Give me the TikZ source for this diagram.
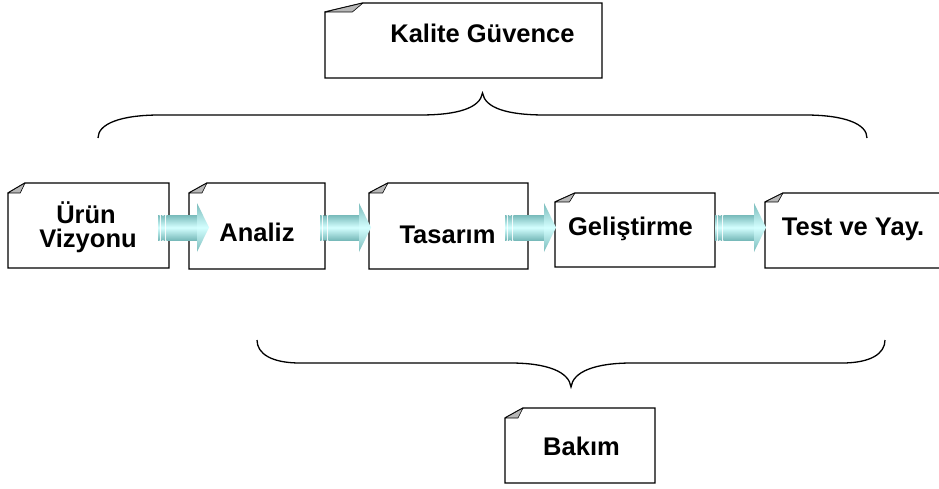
\documentclass[tikz,border=0pt]{standalone}
\usepackage{fontspec}
\setmainfont{Liberation Sans}

\definecolor{arrowedge}{HTML}{78BABA}
\definecolor{arrowmid}{HTML}{D4FFFF}
\definecolor{flapgray}{gray}{0.72}

\tikzset{
  card/.style={draw=black, line width=1.3pt, fill=white, line join=miter},
  flapstyle/.style={draw=black, line width=0.6pt, fill=flapgray, line join=round},
  cardtext/.style={font=\fontsize{25.5}{24.5}\selectfont\bfseries, anchor=base, inner sep=0pt},
  bracestyle/.style={draw=black, line width=1.3pt},
  arrowshade/.style={top color=arrowedge, bottom color=arrowedge, middle color=arrowmid},
}

% card with a folded top-left corner: x1 y1 x2 y2 fold-width fold-height
\newcommand\papercard[6]{%
  \path[card] (#1,#2+#6) -- (#1+#5,#2) -- (#3,#2) -- (#3,#4) -- (#1,#4) -- cycle;
  \path[flapstyle] (#1,#2+#6) -- (#1+#5,#2) -- (#1+0.72*#5,#2+#6) -- cycle;
}

% shaded block arrow with a striped tail, starting at x = #1
\newcommand\flowarrow[1]{%
  \shade[arrowshade] (#1,215) rectangle (#1+1.5,240);
  \shade[arrowshade] (#1+2.8,215) rectangle (#1+4.3,240);
  \shade[arrowshade] (#1+5.6,215) rectangle (#1+7.1,240);
  \shade[arrowshade] (#1+8.4,215) rectangle (#1+39.2,240);
  \shade[arrowshade] (#1+39,203) -- (#1+51,227.5) -- (#1+39,252) -- cycle;
}

\begin{document}
\begin{tikzpicture}[x=1pt, y=-1pt]
  \clip (0,0) rectangle (939,489);
  \fill[white] (0,0) rectangle (939,489);

  % cards
  \papercard{325}{3}{602}{78}{38}{9}
  \papercard{8}{183}{169}{268}{17}{10}
  \papercard{189}{183}{325}{269}{18}{10}
  \papercard{369}{183}{528}{269}{19}{10}
  \papercard{555}{193}{715}{267}{20}{9}
  \papercard{765}{193}{950}{268}{18}{9}
  \papercard{505}{408}{655}{483}{18}{10}

  % arrows between the phases
  \flowarrow{158}
  \flowarrow{320}
  \flowarrow{505}
  \flowarrow{715}

  % braces
  \draw[bracestyle] (98,138) .. controls (98,124) and (120,115) .. (160,115)
    -- (420,115) .. controls (458,115) and (480,108) .. (482.5,93)
    .. controls (485,108) and (507,115) .. (545,115)
    -- (805,115) .. controls (845,115) and (867,124) .. (867,138);
  \draw[bracestyle] (257,340) .. controls (257,354) and (272,363) .. (300,363)
    -- (510,363) .. controls (548,363) and (569,372) .. (571,387)
    .. controls (573,372) and (594,363) .. (632,363)
    -- (842,363) .. controls (870,363) and (885,354) .. (885,340);

  % labels
  \node[cardtext] (kalite) at (482.5,43) {Kalite Güvence};
  \node[cardtext] (urun) at (86,223) {Ürün};
  \node[cardtext] (vizyon) at (88,247) {Vizyonu};
  \node[cardtext] (analiz) at (257,241) {Analiz};
  \node[cardtext] (tasarim) at (447.5,243) {Tasarım};
  \node[cardtext] (gelistirme) at (630.5,235) {Geliştirme};
  \node[cardtext] (test) at (853,235) {Test ve Yay.};
  \node[cardtext] (bakim) at (581.5,455) {Bakım};
\end{tikzpicture}
\end{document}
